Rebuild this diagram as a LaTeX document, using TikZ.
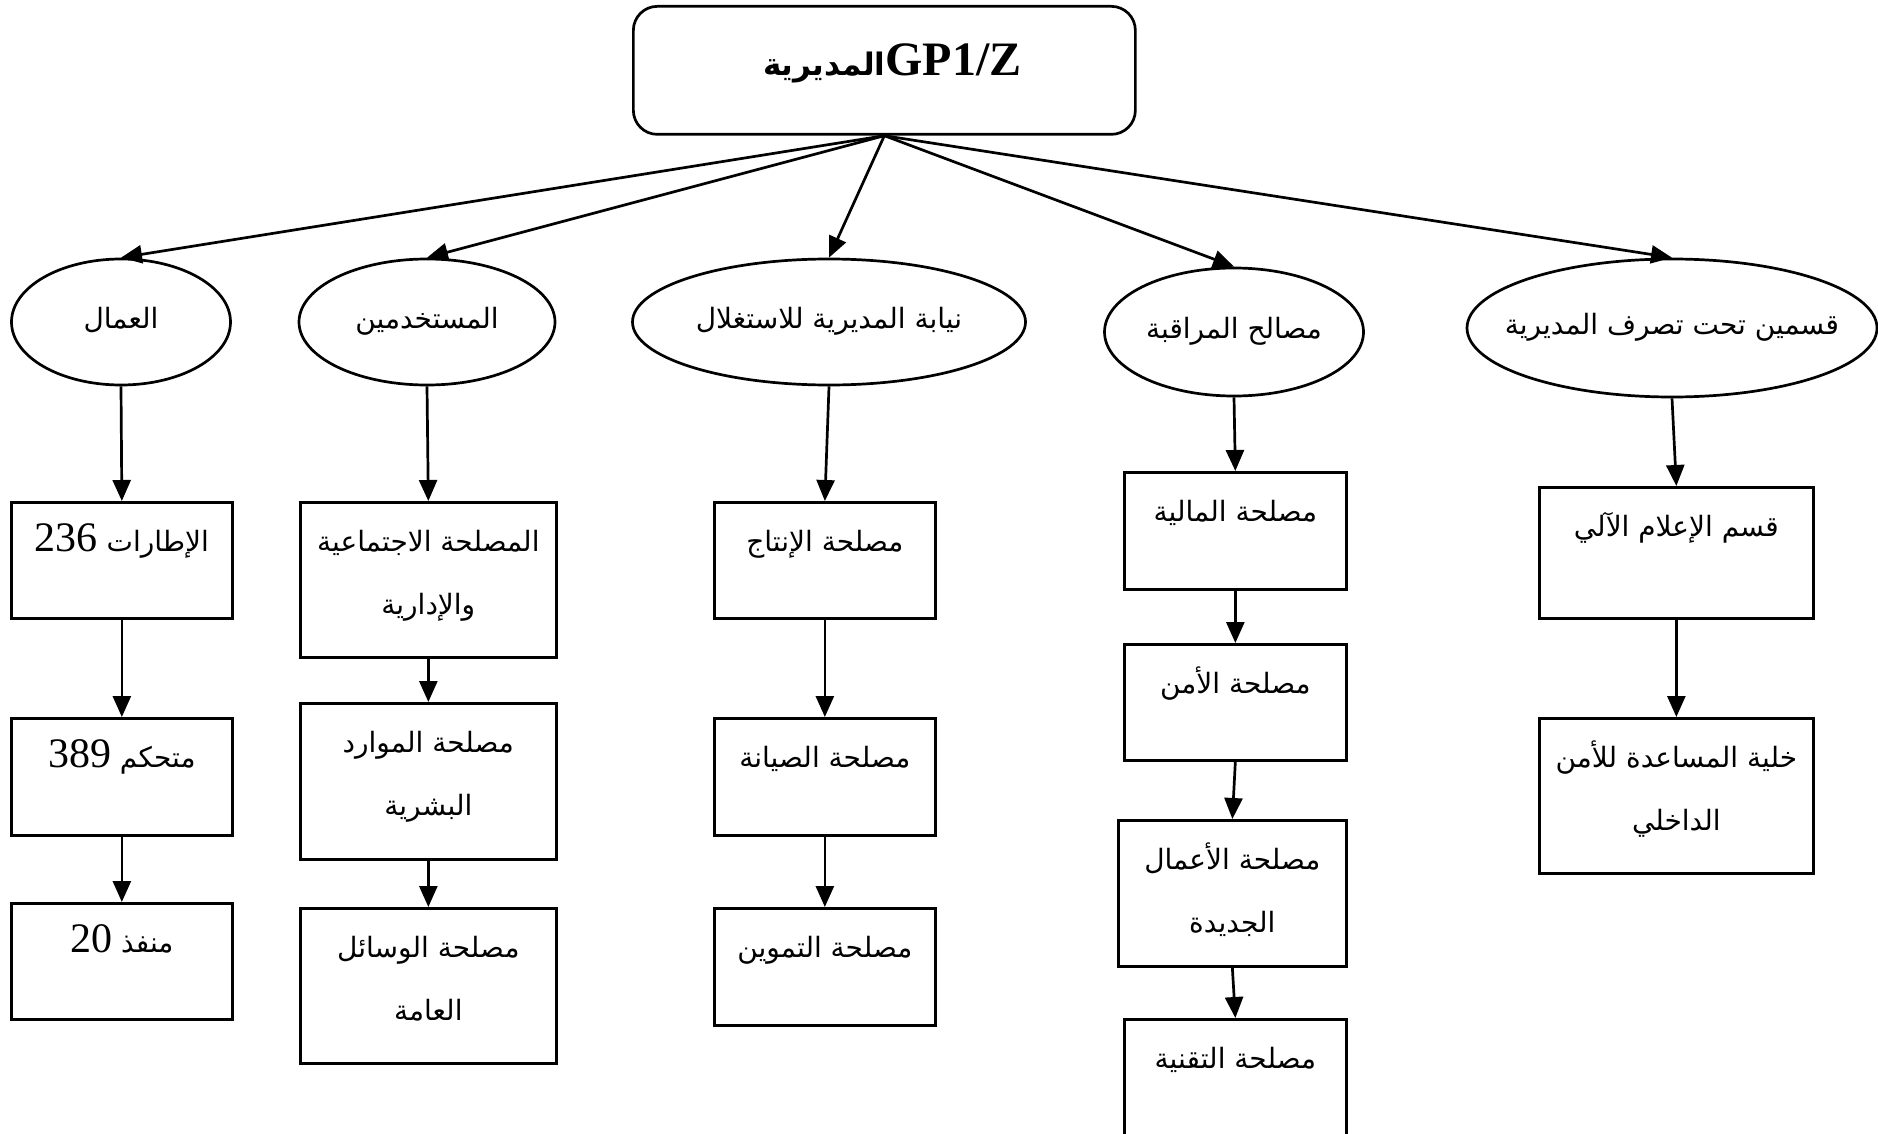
\documentclass[tikz,border=0pt]{standalone}
\usepackage{fontspec}
\usetikzlibrary{shapes.geometric,arrows.meta}
\TeXXeTstate=1
\newfontfamily\arabicfont[Script=Arabic]{DejaVu Sans}
\newfontfamily\latinfont{Liberation Serif}
\newcommand\AR[1]{{\arabicfont\beginR #1\endR}}
\newcommand\NUM[1]{{\latinfont\fontsize{42}{50}\selectfont\beginL #1\endL}}
\newcommand\twoline[2]{\vtop{\baselineskip=63pt\lineskiplimit=-200pt\halign{\hfil##\hfil\cr#1\cr#2\cr}}}
\tikzset{
  bx/.style={draw, rectangle, anchor=north west, inner sep=0pt, line width=2.7pt},
  ell/.style={draw, ellipse, inner sep=0pt, line width=2.7pt},
  lbl/.style={anchor=base, inner sep=0pt, font=\arabicfont\fontsize{28}{63}\selectfont},
  arr/.style={-{Triangle[width=18pt,length=21pt]}, line width=2.7pt}
}
\begin{document}
\begin{tikzpicture}[x=1pt,y=-1pt]
\useasboundingbox (0,0) rectangle (1878,1134);
\clip (0,0) rectangle (1878,1134);
\fill[white] (0,0) rectangle (1878,1134);
% title
\node[draw, rounded corners=24pt, line width=2.7pt, minimum width=502pt, minimum height=128pt, anchor=north west, inner sep=0pt] (top) at (632,5) {};
\node[anchor=base, inner sep=0pt] (topt) at ([xshift=8pt,yshift=-5pt]top.center)
  {\beginR\beginL{\latinfont\bfseries\fontsize{48}{56}\selectfont GP1/Z}\endL{\arabicfont\bfseries\fontsize{31}{40}\selectfont المديرية}\endR};
% ellipses
\node[ell, minimum width=219pt, minimum height=126pt] (e1) at (121,322) {};
\node[ell, minimum width=256pt, minimum height=126pt] (e2) at (427,322) {};
\node[ell, minimum width=393pt, minimum height=126pt] (e3) at (829,322) {};
\node[ell, minimum width=259pt, minimum height=128pt] (e4) at (1234,332) {};
\node[ell, minimum width=410pt, minimum height=138pt] (e5) at (1672,328) {};
\node[lbl] (e1t) at ([yshift=-6pt]e1.center) {\AR{العمال}};
\node[lbl] (e2t) at ([yshift=-6pt]e2.center) {\AR{المستخدمين}};
\node[lbl] (e3t) at ([yshift=-6pt]e3.center) {\AR{نيابة المديرية للاستغلال}};
\node[lbl] (e4t) at ([yshift=-6pt]e4.center) {\AR{مصالح المراقبة}};
\node[lbl] (e5t) at ([yshift=-6pt]e5.center) {\AR{قسمين تحت تصرف المديرية}};
% column 1
\node[bx, minimum width=221pt, minimum height=116pt] (a1) at (10,501) {};
\node[bx, minimum width=221pt, minimum height=117pt] (a2) at (10,717) {};
\node[bx, minimum width=221pt, minimum height=116pt] (a3) at (10,902) {};
\node[lbl] (a1t) at ([yshift=-50pt]a1.north) {\AR{الإطارات \NUM{236}}};
\node[lbl] (a2t) at ([yshift=-50pt]a2.north) {\AR{متحكم \NUM{389}}};
\node[lbl] (a3t) at ([yshift=-50pt]a3.north) {\AR{منفذ \NUM{20}}};
% column 2
\node[bx, minimum width=256pt, minimum height=155pt] (b1) at (299,501) {};
\node[bx, minimum width=256pt, minimum height=156pt] (b2) at (299,702) {};
\node[bx, minimum width=256pt, minimum height=155pt] (b3) at (299,907) {};
\node[lbl] (b1t) at ([yshift=-50pt]b1.north) {\twoline{\AR{المصلحة الاجتماعية}}{\AR{والإدارية}}};
\node[lbl] (b2t) at ([yshift=-50pt]b2.north) {\twoline{\AR{مصلحة الموارد}}{\AR{البشرية}}};
\node[lbl] (b3t) at ([yshift=-50pt]b3.north) {\twoline{\AR{مصلحة الوسائل}}{\AR{العامة}}};
% column 3
\node[bx, minimum width=221pt, minimum height=116pt] (c1) at (713,501) {};
\node[bx, minimum width=221pt, minimum height=117pt] (c2) at (713,717) {};
\node[bx, minimum width=221pt, minimum height=117pt] (c3) at (713,907) {};
\node[lbl] (c1t) at ([yshift=-50pt]c1.north) {\AR{مصلحة الإنتاج}};
\node[lbl] (c2t) at ([yshift=-50pt]c2.north) {\AR{مصلحة الصيانة}};
\node[lbl] (c3t) at ([yshift=-50pt]c3.north) {\AR{مصلحة التموين}};
% column 4
\node[bx, minimum width=222pt, minimum height=117pt] (d1) at (1123,471) {};
\node[bx, minimum width=222pt, minimum height=116pt] (d2) at (1123,643) {};
\node[bx, minimum width=228pt, minimum height=146pt] (d3) at (1117,819) {};
\node[bx, minimum width=222pt, minimum height=140pt] (d4) at (1123,1018) {};
\node[lbl] (d1t) at ([yshift=-50pt]d1.north) {\AR{مصلحة المالية}};
\node[lbl] (d2t) at ([yshift=-50pt]d2.north) {\AR{مصلحة الأمن}};
\node[lbl] (d3t) at ([yshift=-50pt]d3.north) {\twoline{\AR{مصلحة الأعمال}}{\AR{الجديدة}}};
\node[lbl] (d4t) at ([yshift=-50pt]d4.north) {\AR{مصلحة التقنية}};
% column 5
\node[bx, minimum width=274pt, minimum height=131pt] (f1) at (1538,486) {};
\node[bx, minimum width=274pt, minimum height=155pt] (f2) at (1538,717) {};
\node[lbl] (f1t) at ([yshift=-50pt]f1.north) {\AR{قسم الإعلام الآلي}};
\node[lbl] (f2t) at ([yshift=-50pt]f2.north) {\twoline{\AR{خلية المساعدة للأمن}}{\AR{الداخلي}}};
% connectors
\draw[arr] (top.south) -- (e1.north);
\draw[arr] (top.south) -- (e2.north);
\draw[arr] (top.south) -- (e3.north);
\draw[arr] (top.south) -- (e4.north);
\draw[arr] (top.south) -- (e5.north);
\draw[arr] (e1.south) -- (a1.north);
\draw[arr] (a1.south) -- (a2.north);
\draw[arr] (a2.south) -- (a3.north);
\draw[arr] (e2.south) -- (b1.north);
\draw[arr] (b1.south) -- (b2.north);
\draw[arr] (b2.south) -- (b3.north);
\draw[arr] (e3.south) -- (c1.north);
\draw[arr] (c1.south) -- (c2.north);
\draw[arr] (c2.south) -- (c3.north);
\draw[arr] (e4.south) -- (d1.north);
\draw[arr] (d1.south) -- (d2.north);
\draw[arr] (d2.south) -- (d3.north);
\draw[arr] (d3.south) -- (d4.north);
\draw[arr] (e5.south) -- (f1.north);
\draw[arr] (f1.south) -- (f2.north);
\end{tikzpicture}
\end{document}
